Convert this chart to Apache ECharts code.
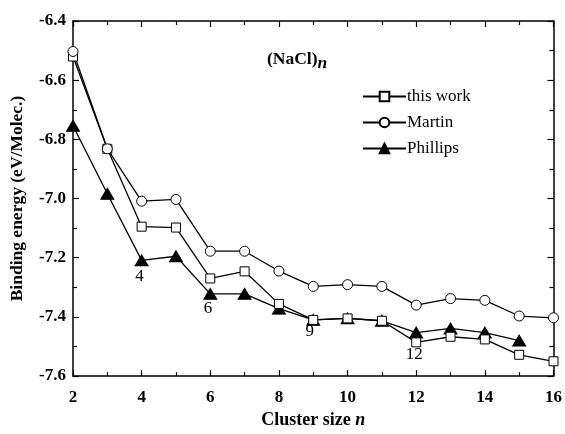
<!DOCTYPE html>
<html><head><meta charset="utf-8">
<script src="https://cdn.jsdelivr.net/npm/echarts@6/dist/echarts.min.js"></script>
<style>html,body{margin:0;padding:0;background:#fff}#c{width:565px;height:434px}</style>
</head><body><div id="c"></div>
<script>
var clusterSizes = [2,3,4,5,6,7,8,9,10,11,12,13,14,15,16];
var thisWork = [-6.52,-6.832,-7.095,-7.098,-7.27,-7.246,-7.356,-7.41,-7.405,-7.413,-7.486,-7.467,-7.476,-7.528,-7.55];
var martin = [-6.503,-6.832,-7.009,-7.003,-7.178,-7.178,-7.245,-7.297,-7.291,-7.297,-7.36,-7.338,-7.344,-7.397,-7.403];
var phillipsSizes = [2,3,4,5,6,7,8,9,10,11,12,13,14,15];
var phillips = [-6.754,-6.984,-7.209,-7.195,-7.322,-7.322,-7.372,-7.41,-7.405,-7.413,-7.453,-7.439,-7.453,-7.48];
var annotations = [[3.94,-7.263,'4'],[5.93,-7.37,'6'],[8.9,-7.45,'9'],[11.94,-7.528,'12']];

function pairs(xs, ys){ return xs.map(function(x,i){return [x, ys[i]];}); }
var font = 'Liberation Serif';
var chart = echarts.init(document.getElementById('c'));
var axisLineStyle = {color:'#000', width:1.5};
var option = {
  animation:false,
  grid:{left:72, right:10, top:21, bottom:57},
  legend:{
    left:357, top:83, orient:'vertical', itemGap:9, itemWidth:43, itemHeight:12,
    textStyle:{fontFamily:font, fontSize:17, color:'#000', padding:[0,0,0,-4]},
    data:['this work','Martin','Phillips']
  },
  graphic:[{
    type:'text', left:267, top:50,
    style:{rich:{a:{fontFamily:font,fontWeight:'bold',fontSize:17.5,fill:'#000'},b:{fontFamily:font,fontWeight:'bold',fontStyle:'italic',fontSize:17.5,fill:'#000',padding:[8,0,0,0]}},
      text:'{a|(NaCl)}{b|n}'}
  }],
  xAxis:[{
    type:'value', min:2, max:16, interval:2, position:'bottom',
    name:'{a|Cluster size }{b|n}', nameLocation:'middle', nameGap:33,
    nameTextStyle:{rich:{a:{fontFamily:font,fontWeight:'bold',fontSize:18,color:'#000'},b:{fontFamily:font,fontWeight:'bold',fontStyle:'italic',fontSize:18,color:'#000'}}},
    axisLine:{lineStyle:axisLineStyle},
    axisTick:{inside:true,length:6,lineStyle:{color:'#000',width:1.2}},
    minorTick:{show:true,splitNumber:2,length:4,lineStyle:{color:'#000',width:1.2}},
    axisLabel:{fontFamily:font,fontWeight:'bold',fontSize:17,color:'#000',margin:13},
    splitLine:{show:false}
  },{
    type:'value', min:2, max:16, interval:2, position:'top',
    axisLine:{lineStyle:axisLineStyle},
    axisTick:{inside:true,length:6,lineStyle:{color:'#000',width:1.2}},
    minorTick:{show:true,splitNumber:2,length:4,lineStyle:{color:'#000',width:1.2}},
    axisLabel:{show:false}, splitLine:{show:false}
  }],
  yAxis:[{
    type:'value', min:-7.6, max:-6.4, interval:0.2, position:'left',
    name:'Binding energy (eV/Molec.)', nameLocation:'middle', nameGap:47,
    nameTextStyle:{fontFamily:font,fontWeight:'bold',fontSize:17.5,color:'#000'},
    axisLine:{lineStyle:axisLineStyle},
    axisTick:{inside:true,length:6,lineStyle:{color:'#000',width:1.2}},
    minorTick:{show:true,splitNumber:2,length:4,lineStyle:{color:'#000',width:1.2}},
    axisLabel:{fontFamily:font,fontWeight:'bold',fontSize:17,color:'#000',margin:7,formatter:function(v){return v.toFixed(1);}},
    splitLine:{show:false}
  },{
    type:'value', min:-7.6, max:-6.4, interval:0.2, position:'right',
    axisLine:{lineStyle:axisLineStyle},
    axisTick:{inside:true,length:6,lineStyle:{color:'#000',width:1.2}},
    minorTick:{show:true,splitNumber:2,length:4,lineStyle:{color:'#000',width:1.2}},
    axisLabel:{show:false}, splitLine:{show:false}
  }],
  series:[{
    name:'this work', type:'line', data:pairs(clusterSizes,thisWork),
    symbol:'rect', symbolSize:9, z:3,
    lineStyle:{color:'#000',width:1.3}, itemStyle:{color:'#fff',borderColor:'#000',borderWidth:1}
  },{
    name:'Martin', type:'line', data:pairs(clusterSizes,martin),
    symbol:'circle', symbolSize:10, z:3,
    lineStyle:{color:'#000',width:1.3}, itemStyle:{color:'#fff',borderColor:'#000',borderWidth:1}
  },{
    name:'Phillips', type:'line', data:pairs(phillipsSizes,phillips),
    symbol:'triangle', symbolSize:[13,11], z:2,
    lineStyle:{color:'#000',width:1.3}, itemStyle:{color:'#000',borderColor:'#000',borderWidth:1},
    markPoint:{
      symbol:'circle', symbolSize:1, itemStyle:{color:'transparent'},
      label:{show:true,position:'inside',fontFamily:font,fontSize:17,color:'#000',formatter:function(p){return p.name;}},
      data:annotations.map(function(a){return {coord:[a[0],a[1]], name:a[2], value:a[2]};})
    }
  }]
};
chart.setOption(option);
</script></body></html>
